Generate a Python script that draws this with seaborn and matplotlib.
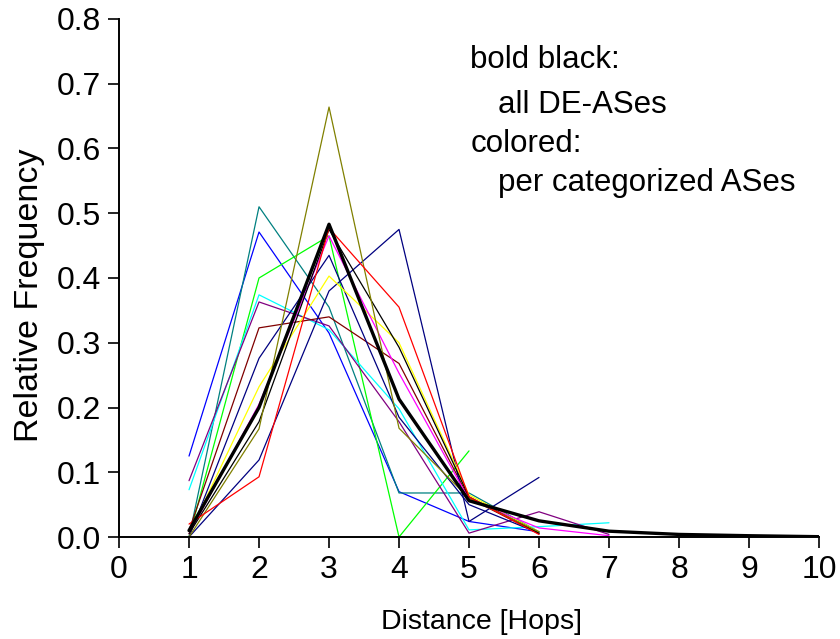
import matplotlib
matplotlib.use("Agg")
import matplotlib.pyplot as plt
import seaborn as sns
import pandas as pd

# Relative frequency of AS-path distance (hops), per AS category
blue_vals = [0.125, 0.471, 0.315, 0.07, 0.024, 0.008]
teal_vals = [0.0, 0.51, 0.355, 0.068, 0.068, 0.008]
green_vals = [0.0, 0.40, 0.465, 0.0, 0.133]
cyan_vals = [0.073, 0.374, 0.32, 0.198, 0.011, 0.016, 0.022]
purple_vals = [0.087, 0.363, 0.326, 0.178, 0.006, 0.039, 0.004]
maroon_vals = [0.01, 0.323, 0.34, 0.268, 0.06, 0.005]
navy_a_vals = [0.0, 0.276, 0.435, 0.185, 0.05, 0.006]
navy_b_vals = [0.0, 0.119, 0.38, 0.475, 0.024, 0.092]
yellow_vals = [0.005, 0.232, 0.403, 0.30, 0.065, 0.008]
magenta_vals = [0.005, 0.205, 0.465, 0.253, 0.058, 0.014, 0.002]
black_vals = [0.005, 0.178, 0.475, 0.293, 0.062, 0.006]
olive_vals = [0.0, 0.167, 0.664, 0.168, 0.06, 0.008]
red_vals = [0.02, 0.093, 0.477, 0.355, 0.062, 0.004]

# all DE-ASes
all_vals = [0.01, 0.2, 0.483, 0.213, 0.056, 0.025, 0.009, 0.004, 0.002, 0.0005]

categories = {
    "cat_blue": (blue_vals, "#0000ff"),
    "cat_teal": (teal_vals, "#008080"),
    "cat_green": (green_vals, "#00ff00"),
    "cat_cyan": (cyan_vals, "#00ffff"),
    "cat_purple": (purple_vals, "#800080"),
    "cat_maroon": (maroon_vals, "#800000"),
    "cat_navy_a": (navy_a_vals, "#000080"),
    "cat_navy_b": (navy_b_vals, "#000080"),
    "cat_yellow": (yellow_vals, "#ffff00"),
    "cat_magenta": (magenta_vals, "#ff00ff"),
    "cat_black": (black_vals, "#000000"),
    "cat_olive": (olive_vals, "#808000"),
    "cat_red": (red_vals, "#ff0000"),
}

rows = []
for name, (vals, _) in categories.items():
    for i, v in enumerate(vals):
        rows.append({"hops": i + 1, "freq": v, "series": name})
df = pd.DataFrame(rows)
palette = {name: col for name, (_, col) in categories.items()}

df_all = pd.DataFrame({"hops": list(range(1, len(all_vals) + 1)), "freq": all_vals})

sns.set_style("ticks")
plt.rcParams["font.family"] = ["Liberation Sans", "DejaVu Sans"]
plt.rcParams["text.color"] = "black"
plt.rcParams["axes.labelcolor"] = "black"

fig = plt.figure(figsize=(8.4, 6.39), dpi=100)
ax = fig.add_axes([0.1417, 0.1596, 0.8333, 0.8107])

sns.lineplot(data=df, x="hops", y="freq", hue="series", palette=palette,
             linewidth=0.9, legend=False, estimator=None, sort=False, ax=ax)
sns.lineplot(data=df_all, x="hops", y="freq", color="black", linewidth=2.4,
             estimator=None, ax=ax)

ax.set_xlim(0, 10)
ax.set_ylim(0, 0.8)
ax.set_xticks(range(0, 11))
ax.set_yticks([i / 10 for i in range(9)])
ax.set_yticklabels([f"{i / 10:.1f}" for i in range(9)])

ax.tick_params(axis="both", direction="out", length=8, width=1.2,
               labelsize=23, pad=5, colors="black")
for side in ("left", "bottom"):
    ax.spines[side].set_linewidth(1.4)
    ax.spines[side].set_color("black")
sns.despine(ax=ax)

ax.set_xlabel("Distance [Hops]", fontsize=20.5)
ax.set_ylabel("Relative Frequency", fontsize=24.5)
ax.xaxis.set_label_coords(0.518, -0.138)
ax.yaxis.set_label_coords(-0.106, 0.467)

note_kw = dict(transform=ax.transData, fontsize=22.5, va="center", ha="left")
ax.text(5.02, 0.736, "bold black:", **note_kw)
ax.text(5.41, 0.667, "all DE-ASes", **note_kw)
ax.text(5.02, 0.607, "colored:", **note_kw)
ax.text(5.41, 0.547, "per categorized ASes", **note_kw)

fig.savefig("out.png", dpi=100)
